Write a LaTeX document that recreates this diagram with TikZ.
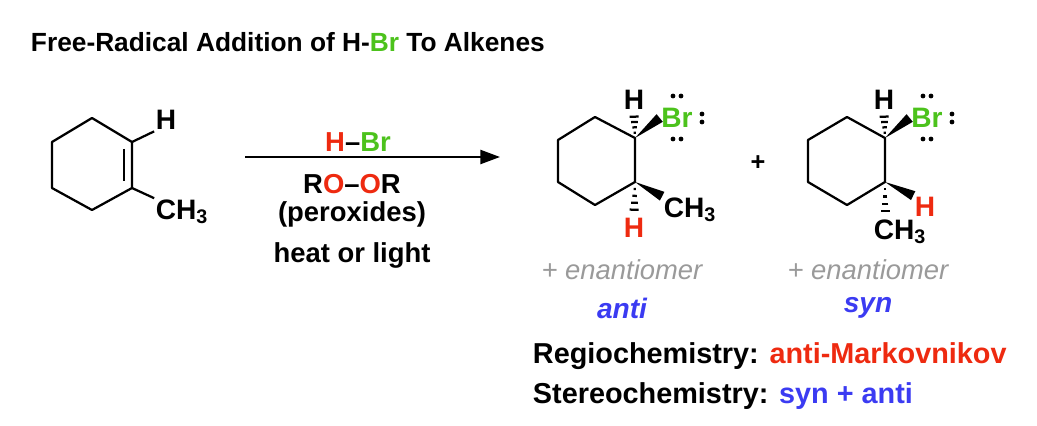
\documentclass[tikz,border=0pt]{standalone}
\usepackage{fontspec}
\setmainfont{Liberation Sans}
\usetikzlibrary{arrows.meta,calc}
\definecolor{brgreen}{HTML}{4CC21C}
\definecolor{hred}{HTML}{EE2A10}
\definecolor{stereoblue}{HTML}{3B3BF2}
\definecolor{enangray}{HTML}{9A9A9A}

% wedge and hash bonds
\newcommand{\wedgebond}[2]{\fill ($(#1)$) -- ($(#2)!3.5pt!90:(#1)$) -- ($(#2)!3.5pt!-90:(#1)$) -- cycle;}
\newcommand{\hashbond}[2]{%
  \foreach \t in {0.2,0.4,0.6,0.8,1.0}{%
    \draw[line width=1.6pt] ($($(#1)!\t!(#2)$)!{\t*4pt}!90:(#2)$) -- ($($(#1)!\t!(#2)$)!{\t*4pt}!-90:(#2)$);}}
\newcommand{\ring}[7]{% name prefix and six vertices
  \coordinate (#1a) at #2; \coordinate (#1b) at #3; \coordinate (#1c) at #4;
  \coordinate (#1d) at #5; \coordinate (#1e) at #6; \coordinate (#1f) at #7;
  \draw[bond] (#1a) -- (#1b) -- (#1c) -- (#1d) -- (#1e) -- (#1f) -- cycle;}
% lone pairs round a Br node
\newcommand{\lonepairs}[1]{%
  \foreach \dx/\dy in {-4/-22,4/-22,-4/21,4/21}{\fill ($(#1)+(\dx,\dy)$) circle (1.7pt);}
  \foreach \dy in {-4,4}{\fill ($(#1)+(25,\dy)$) circle (1.7pt);}}

\begin{document}
\begin{tikzpicture}[x=0.025cm, y=-0.025cm,
    bond/.style={line width=1.6pt, line join=round},
    atom/.style={font=\fontsize{20}{22}\selectfont\bfseries, inner sep=1pt},
    reagent/.style={font=\fontsize{19.5}{22}\selectfont\bfseries},
    enan/.style={font=\fontsize{19.5}{22}\selectfont\itshape, text=enangray},
    relation/.style={font=\fontsize{20}{22}\selectfont\bfseries\itshape, text=stereoblue},
    summary/.style={font=\fontsize{20.5}{24}\selectfont\bfseries, anchor=west}
]
\useasboundingbox (0,0) rectangle (1037,426);

% ---- Title ----
\node[anchor=west, font=\fontsize{18.7}{22}\selectfont\bfseries] (title) at (26,42)
  {Free-Radical Addition of H-\textcolor{brgreen}{Br} To Alkenes};

% ---- Alkene ----
\ring{s}{(52,142)}{(92,118)}{(132,142)}{(132,188)}{(92,210)}{(52,188)}
\draw[bond] ($(sc)!0.15!(sd)+(-8,0)$) -- ($(sd)!0.15!(sc)+(-8,0)$);
\node[atom] (sh) at (166,120) {H};
\node[atom] (sme) at (182,212) {CH\textsubscript{3}};
\draw[bond] (sc) -- (sh.south west);
\draw[bond] (sd) -- (sme.north west);

% ---- Reagents ----
\node[reagent] (hbr) at (358,142) {\textcolor{hred}{H}--\textcolor{brgreen}{Br}};
\node[reagent] (roor) at (352,184) {R\textcolor{hred}{O}--\textcolor{hred}{O}R};
\node[reagent] (perox) at (352,214) {(peroxides)};
\node[reagent] (heat) at (352,255) {heat or light};
\coordinate (arrs) at (245,157);
\coordinate (arre) at (500,157);
\draw[line width=1.6pt, -{Triangle[length=14pt, width=10pt]}] (arrs) -- (arre);

% ---- Product 1 (anti) ----
\ring{p}{(558,140)}{(595,117)}{(635,138)}{(635,182)}{(595,205)}{(558,182)}
\node[atom] (ph) at (634,100) {H};
\node[atom, text=brgreen] (pbr) at (677,118) {Br};
\lonepairs{pbr}
\node[atom, text=hred] (phb) at (634,228) {H};
\node[atom] (pme) at (690,210) {CH\textsubscript{3}};
\hashbond{pc}{ph.south}
\wedgebond{pc}{pbr.west}
\hashbond{pd}{phb.north}
\wedgebond{pd}{pme.north west}

\node[font=\fontsize{18}{20}\selectfont\bfseries] (plus) at (758,163) {+};

% ---- Product 2 (syn) ----
\ring{q}{(808,140)}{(847,117)}{(885,138)}{(885,182)}{(847,205)}{(808,182)}
\node[atom] (qh) at (884,100) {H};
\node[atom, text=brgreen] (qbr) at (927,118) {Br};
\lonepairs{qbr}
\node[atom, text=hred] (qhb) at (925,207) {H};
\node[atom] (qme) at (900,232) {CH\textsubscript{3}};
\hashbond{qc}{qh.south}
\wedgebond{qc}{qbr.west}
\wedgebond{qd}{qhb.north west}
\hashbond{qd}{$(qme.north)+(-15,0)$}

% ---- Stereo labels ----
\node[enan] (pen) at (622,270) {+ enantiomer};
\node[enan] (qen) at (868,270) {+ enantiomer};
\node[relation] (panti) at (622,308) {anti};
\node[relation] (qsyn) at (868,308) {syn};

% ---- Summary ----
\node[summary] (regio) at (528,356) {Regiochemistry: \textcolor{hred}{anti-Markovnikov}};
\node[summary] (stereo) at (528,396) {Stereochemistry: \textcolor{stereoblue}{syn + anti}};
\end{tikzpicture}
\end{document}
